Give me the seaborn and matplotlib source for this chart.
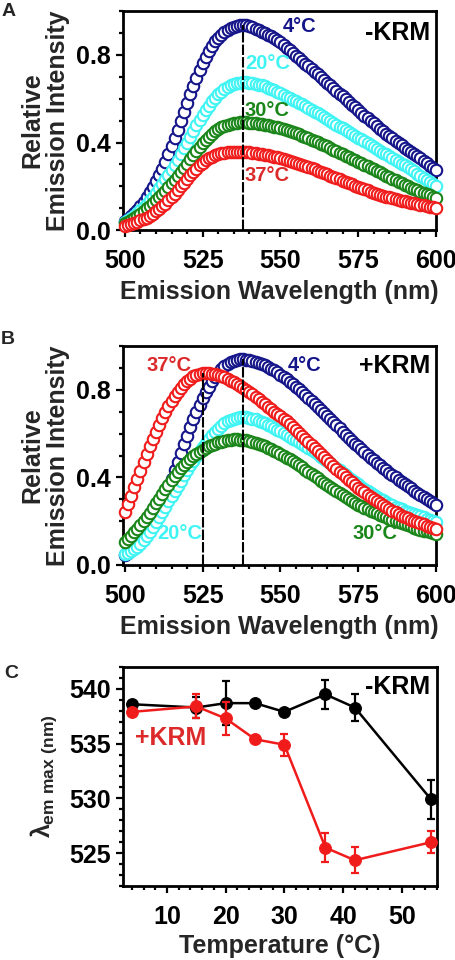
import numpy as np
import pandas as pd
import matplotlib
matplotlib.use("Agg")
import matplotlib.pyplot as plt
import seaborn as sns
from matplotlib.ticker import MultipleLocator

sns.set_style("ticks")
plt.rcParams['font.family'] = ['Liberation Sans', 'DejaVu Sans']
plt.rcParams['font.weight'] = 'bold'
plt.rcParams['mathtext.fontset'] = 'custom'
plt.rcParams['mathtext.rm'] = 'Liberation Sans:bold'
plt.rcParams['mathtext.bf'] = 'Liberation Sans:bold'
plt.rcParams['mathtext.it'] = 'Liberation Sans:bold'

# ---------------- data ----------------
wavelength = np.arange(500, 601, 1)

# Panel A (-KRM)
a_4C = [0.040, 0.050, 0.062, 0.076, 0.092, 0.110, 0.129, 0.150, 0.172, 0.196,
        0.222, 0.250, 0.280, 0.312, 0.346, 0.382, 0.420, 0.459, 0.499, 0.540,
        0.581, 0.621, 0.660, 0.697, 0.732, 0.764, 0.793, 0.819, 0.842, 0.862,
        0.879, 0.893, 0.905, 0.915, 0.923, 0.929, 0.933, 0.936, 0.937, 0.936,
        0.932, 0.926, 0.920, 0.913, 0.906, 0.899, 0.891, 0.885, 0.878, 0.869,
        0.858, 0.846, 0.834, 0.822, 0.810, 0.797, 0.785, 0.773, 0.760, 0.748,
        0.736, 0.723, 0.711, 0.698, 0.686, 0.673, 0.661, 0.648, 0.636, 0.623,
        0.611, 0.598, 0.586, 0.573, 0.561, 0.548, 0.536, 0.523, 0.511, 0.499,
        0.487, 0.475, 0.463, 0.452, 0.441, 0.430, 0.419, 0.408, 0.398, 0.388,
        0.377, 0.367, 0.357, 0.347, 0.337, 0.327, 0.315, 0.305, 0.294, 0.283,
        0.273]
a_20C = [0.035, 0.044, 0.054, 0.065, 0.077, 0.090, 0.104, 0.119, 0.135, 0.152,
         0.170, 0.190, 0.210, 0.231, 0.253, 0.275, 0.298, 0.322, 0.346, 0.373,
         0.399, 0.427, 0.454, 0.480, 0.504, 0.527, 0.549, 0.569, 0.588, 0.605,
         0.620, 0.633, 0.644, 0.653, 0.661, 0.667, 0.671, 0.674, 0.675, 0.675,
         0.674, 0.672, 0.669, 0.665, 0.661, 0.656, 0.650, 0.644, 0.638, 0.631,
         0.624, 0.617, 0.610, 0.603, 0.596, 0.589, 0.582, 0.574, 0.566, 0.558,
         0.550, 0.541, 0.533, 0.524, 0.516, 0.507, 0.499, 0.490, 0.482, 0.473,
         0.465, 0.456, 0.448, 0.439, 0.431, 0.422, 0.414, 0.405, 0.397, 0.388,
         0.380, 0.371, 0.363, 0.354, 0.346, 0.337, 0.329, 0.320, 0.312, 0.303,
         0.295, 0.287, 0.277, 0.268, 0.258, 0.248, 0.238, 0.229, 0.219, 0.210,
         0.200]
a_30C = [0.030, 0.037, 0.045, 0.054, 0.064, 0.075, 0.087, 0.099, 0.111, 0.124,
         0.137, 0.151, 0.165, 0.180, 0.196, 0.213, 0.230, 0.248, 0.266, 0.285,
         0.304, 0.323, 0.342, 0.361, 0.379, 0.396, 0.412, 0.427, 0.440, 0.452,
         0.462, 0.470, 0.477, 0.482, 0.486, 0.489, 0.491, 0.492, 0.492, 0.492,
         0.491, 0.490, 0.488, 0.486, 0.484, 0.481, 0.478, 0.475, 0.472, 0.469,
         0.465, 0.461, 0.457, 0.453, 0.448, 0.443, 0.437, 0.431, 0.425, 0.419,
         0.413, 0.407, 0.401, 0.395, 0.389, 0.382, 0.375, 0.368, 0.361, 0.354,
         0.347, 0.340, 0.333, 0.326, 0.319, 0.312, 0.305, 0.298, 0.291, 0.284,
         0.277, 0.270, 0.263, 0.256, 0.249, 0.242, 0.235, 0.228, 0.221, 0.214,
         0.207, 0.200, 0.194, 0.188, 0.182, 0.176, 0.170, 0.164, 0.158, 0.153,
         0.148]
a_37C = [0.018, 0.022, 0.027, 0.032, 0.038, 0.044, 0.050, 0.057, 0.066, 0.075,
         0.085, 0.096, 0.108, 0.121, 0.135, 0.150, 0.166, 0.182, 0.199, 0.216,
         0.233, 0.250, 0.266, 0.281, 0.295, 0.307, 0.318, 0.327, 0.335, 0.341,
         0.346, 0.350, 0.353, 0.355, 0.356, 0.357, 0.357, 0.357, 0.357, 0.356,
         0.355, 0.353, 0.351, 0.349, 0.347, 0.345, 0.342, 0.339, 0.336, 0.332,
         0.328, 0.324, 0.320, 0.316, 0.312, 0.308, 0.303, 0.298, 0.293, 0.288,
         0.283, 0.277, 0.272, 0.266, 0.260, 0.255, 0.249, 0.243, 0.238, 0.232,
         0.226, 0.220, 0.215, 0.209, 0.203, 0.198, 0.192, 0.187, 0.181, 0.176,
         0.171, 0.166, 0.161, 0.157, 0.153, 0.149, 0.145, 0.141, 0.138, 0.134,
         0.131, 0.128, 0.125, 0.122, 0.119, 0.116, 0.113, 0.110, 0.107, 0.104,
         0.101]

# Panel B (+KRM)
b_4C = [0.045, 0.055, 0.067, 0.081, 0.097, 0.115, 0.134, 0.155, 0.178, 0.203,
        0.230, 0.259, 0.290, 0.323, 0.358, 0.395, 0.433, 0.472, 0.512, 0.552,
        0.591, 0.629, 0.665, 0.699, 0.731, 0.761, 0.789, 0.815, 0.839, 0.860,
        0.879, 0.895, 0.908, 0.919, 0.928, 0.934, 0.938, 0.940, 0.940, 0.939,
        0.937, 0.933, 0.929, 0.924, 0.918, 0.912, 0.905, 0.897, 0.889, 0.880,
        0.870, 0.860, 0.849, 0.838, 0.827, 0.815, 0.803, 0.790, 0.777, 0.764,
        0.750, 0.736, 0.722, 0.708, 0.694, 0.680, 0.666, 0.652, 0.638, 0.624,
        0.610, 0.596, 0.582, 0.568, 0.555, 0.542, 0.529, 0.516, 0.503, 0.491,
        0.479, 0.467, 0.455, 0.444, 0.433, 0.422, 0.411, 0.400, 0.390, 0.380,
        0.370, 0.360, 0.350, 0.340, 0.330, 0.320, 0.310, 0.301, 0.292, 0.283,
        0.274]
b_20C = [0.050, 0.055, 0.062, 0.071, 0.082, 0.096, 0.113, 0.131, 0.150, 0.172,
         0.195, 0.219, 0.243, 0.267, 0.291, 0.315, 0.339, 0.363, 0.386, 0.409,
         0.432, 0.455, 0.477, 0.499, 0.520, 0.540, 0.559, 0.577, 0.594, 0.609,
         0.623, 0.636, 0.647, 0.656, 0.663, 0.668, 0.672, 0.674, 0.675, 0.674,
         0.672, 0.669, 0.665, 0.660, 0.654, 0.648, 0.641, 0.634, 0.627, 0.619,
         0.611, 0.603, 0.595, 0.587, 0.578, 0.569, 0.560, 0.551, 0.542, 0.533,
         0.524, 0.515, 0.505, 0.495, 0.485, 0.475, 0.465, 0.454, 0.443, 0.432,
         0.421, 0.410, 0.399, 0.388, 0.378, 0.368, 0.358, 0.348, 0.338, 0.329,
         0.320, 0.311, 0.303, 0.295, 0.287, 0.280, 0.273, 0.266, 0.260, 0.254,
         0.248, 0.242, 0.237, 0.232, 0.227, 0.222, 0.217, 0.212, 0.207, 0.202,
         0.198]
b_30C = [0.107, 0.120, 0.134, 0.149, 0.165, 0.182, 0.200, 0.219, 0.239, 0.260,
         0.281, 0.303, 0.325, 0.346, 0.367, 0.387, 0.406, 0.424, 0.441, 0.457,
         0.471, 0.484, 0.496, 0.507, 0.517, 0.526, 0.534, 0.542, 0.549, 0.555,
         0.560, 0.564, 0.568, 0.571, 0.573, 0.574, 0.574, 0.573, 0.571, 0.569,
         0.566, 0.562, 0.558, 0.553, 0.548, 0.542, 0.536, 0.529, 0.522, 0.515,
         0.507, 0.499, 0.491, 0.483, 0.474, 0.465, 0.456, 0.446, 0.436, 0.426,
         0.416, 0.406, 0.396, 0.386, 0.376, 0.366, 0.356, 0.346, 0.336, 0.327,
         0.318, 0.309, 0.300, 0.292, 0.284, 0.276, 0.269, 0.262, 0.255, 0.248,
         0.242, 0.236, 0.230, 0.224, 0.218, 0.212, 0.206, 0.201, 0.196, 0.191,
         0.186, 0.181, 0.176, 0.171, 0.166, 0.161, 0.157, 0.153, 0.149, 0.145,
         0.141]
b_37C = [0.244, 0.280, 0.317, 0.355, 0.393, 0.431, 0.469, 0.506, 0.542, 0.577,
         0.610, 0.642, 0.672, 0.700, 0.726, 0.750, 0.772, 0.792, 0.810, 0.826,
         0.840, 0.852, 0.862, 0.870, 0.875, 0.879, 0.878, 0.877, 0.875, 0.872,
         0.868, 0.863, 0.857, 0.850, 0.843, 0.835, 0.826, 0.817, 0.808, 0.799,
         0.790, 0.780, 0.769, 0.757, 0.745, 0.734, 0.723, 0.712, 0.700, 0.690,
         0.679, 0.668, 0.656, 0.644, 0.631, 0.617, 0.603, 0.589, 0.575, 0.561,
         0.547, 0.533, 0.519, 0.505, 0.492, 0.479, 0.466, 0.453, 0.440, 0.427,
         0.414, 0.401, 0.389, 0.377, 0.365, 0.354, 0.343, 0.332, 0.321, 0.311,
         0.301, 0.291, 0.282, 0.273, 0.264, 0.256, 0.248, 0.240, 0.233, 0.226,
         0.219, 0.213, 0.207, 0.201, 0.195, 0.190, 0.185, 0.180, 0.175, 0.170,
         0.165]

peaks_a = [538]
peaks_b = [525, 538]

# Panel C
temperature = [4, 15, 20, 25, 30, 37, 42, 55]
lam_minus = [538.6, 538.3, 538.7, 538.7, 537.9, 539.5, 538.3, 529.9]
err_minus = [0.3, 1.0, 2.0, 0.2, 0.2, 1.3, 1.2, 1.8]
lam_plus = [537.9, 538.4, 537.3, 535.4, 534.9, 525.5, 524.35, 526.0]
err_plus = [0.2, 1.1, 1.5, 0.3, 1.0, 1.3, 1.2, 1.0]

# ---------------- style ----------------
NAVY = '#15158a'
CYAN = '#40f4f4'
GREEN = '#1a861a'
RED = '#f01c1c'
TXT_RED = '#dc2a2a'

fig = plt.figure(figsize=(4.56, 9.6), dpi=100)
axA = fig.add_axes([0.2697, 0.7604, 0.6864, 0.2279])
axB = fig.add_axes([0.2697, 0.4115, 0.6864, 0.2279])
axC = fig.add_axes([0.2697, 0.0771, 0.6886, 0.2281])

FS = 18


def style_axis(ax):
    for s in ax.spines.values():
        s.set_linewidth(2.0)
        s.set_color('black')
    ax.tick_params(which='both', direction='out', width=1.6, colors='black',
                   top=False, right=False)
    ax.tick_params(which='major', length=5, labelsize=FS)
    ax.tick_params(axis='x', which='major', pad=8.5)
    ax.tick_params(axis='y', which='major', pad=4)
    ax.tick_params(which='minor', length=3)
    for lab in ax.get_xticklabels() + ax.get_yticklabels():
        lab.set_fontweight('bold')


def spectra_panel(ax, series, peaks, peak_series):
    for vals, col in series:
        df = pd.DataFrame({'wl': wavelength, 'I': vals})
        sns.scatterplot(data=df, x='wl', y='I', ax=ax, marker='o', s=68,
                        color=col, facecolor='white', edgecolor=col,
                        linewidth=1.5, clip_on=False, zorder=3, legend=False)
    for p, vals in zip(peaks, peak_series):
        top = vals[int(np.where(wavelength == p)[0][0])]
        ax.vlines(p, 0, top, colors='black', linewidth=1.5,
                  linestyles=(0, (5, 1)), zorder=5)
    ax.set_xlim(499.4, 600)
    ax.set_ylim(0, 1.0)
    ax.xaxis.set_major_locator(MultipleLocator(25))
    ax.xaxis.set_minor_locator(MultipleLocator(5))
    ax.yaxis.set_major_locator(MultipleLocator(0.4))
    ax.yaxis.set_minor_locator(MultipleLocator(0.1))
    ax.set_xlabel('Emission Wavelength (nm)', fontsize=FS, fontweight='bold', labelpad=5.5)
    ax.set_ylabel('Relative\nEmission Intensity', fontsize=FS, fontweight='bold',
                  linespacing=1.1)
    ax.yaxis.set_label_coords(-0.169, 0.5)
    style_axis(ax)


# Panel A
spectra_panel(axA, [(a_4C, NAVY), (a_20C, CYAN), (a_30C, GREEN), (a_37C, RED)],
              peaks_a, [a_4C])
lbl = dict(fontsize=14.5, fontweight='bold', va='center', ha='left')
axA.text(550.8, 0.928, '4°C', color=NAVY, **lbl)
axA.text(538.6, 0.763, '20°C', color=CYAN, **lbl)
axA.text(538.6, 0.544, '30°C', color=GREEN, **lbl)
axA.text(538.6, 0.247, '37°C', color=TXT_RED, **lbl)
axA.text(598, 0.90, '-KRM', color='black', fontsize=FS, fontweight='bold',
         va='center', ha='right')

# Panel B
spectra_panel(axB, [(b_4C, NAVY), (b_20C, CYAN), (b_30C, GREEN), (b_37C, RED)],
              peaks_b, [b_37C, b_4C])
axB.text(507.1, 0.91, '37°C', color=TXT_RED, **lbl)
axB.text(552.4, 0.91, '4°C', color=NAVY, **lbl)
axB.text(510.3, 0.142, '20°C', color=CYAN, **lbl)
axB.text(573.3, 0.142, '30°C', color=GREEN, **lbl)
axB.text(598, 0.91, '+KRM', color='black', fontsize=FS, fontweight='bold',
         va='center', ha='right')

# Panel C
dfm = pd.DataFrame({'T': temperature, 'lam': lam_minus})
dfp = pd.DataFrame({'T': temperature, 'lam': lam_plus})
axC.errorbar(temperature, lam_minus, yerr=err_minus, fmt='none', ecolor='black',
             elinewidth=1.6, capsize=3, capthick=1.6, zorder=2)
sns.lineplot(data=dfm, x='T', y='lam', ax=axC, color='black', linewidth=1.8,
             marker='o', markersize=8.5, markeredgecolor='black', errorbar=None,
             zorder=3, legend=False)
axC.errorbar(temperature, lam_plus, yerr=err_plus, fmt='none', ecolor=RED,
             elinewidth=1.6, capsize=3, capthick=1.6, zorder=4)
sns.lineplot(data=dfp, x='T', y='lam', ax=axC, color=RED, linewidth=1.8,
             marker='o', markersize=8.5, markeredgecolor=RED, errorbar=None,
             zorder=5, legend=False)
axC.set_xlim(2.5, 56)
axC.set_ylim(522, 542)
axC.xaxis.set_major_locator(MultipleLocator(10))
axC.xaxis.set_minor_locator(MultipleLocator(2))
axC.yaxis.set_major_locator(MultipleLocator(5))
axC.yaxis.set_minor_locator(MultipleLocator(1))
axC.set_xlabel('Temperature (°C)', fontsize=FS, fontweight='bold', labelpad=4)
axC.set_ylabel(r'$\lambda_{\mathrm{em\ max\ (nm)}}$', fontsize=18, fontweight='bold')
axC.yaxis.set_label_coords(-0.205, 0.5)
axC.text(54.8, 540.2, '-KRM', color='black', fontsize=FS, fontweight='bold',
         va='center', ha='right')
axC.text(4.55, 535.5, '+KRM', color=TXT_RED, fontsize=FS, fontweight='bold',
         va='center', ha='left')
style_axis(axC)

# Panel letters
fig.text(0.004, 0.9875, 'A', fontsize=14, fontweight='bold', va='center', ha='left')
fig.text(0.002, 0.646, 'B', fontsize=14, fontweight='bold', va='center', ha='left')
fig.text(0.010, 0.298, 'C', fontsize=14, fontweight='bold', va='center', ha='left')

fig.savefig('out.png', dpi=100)
